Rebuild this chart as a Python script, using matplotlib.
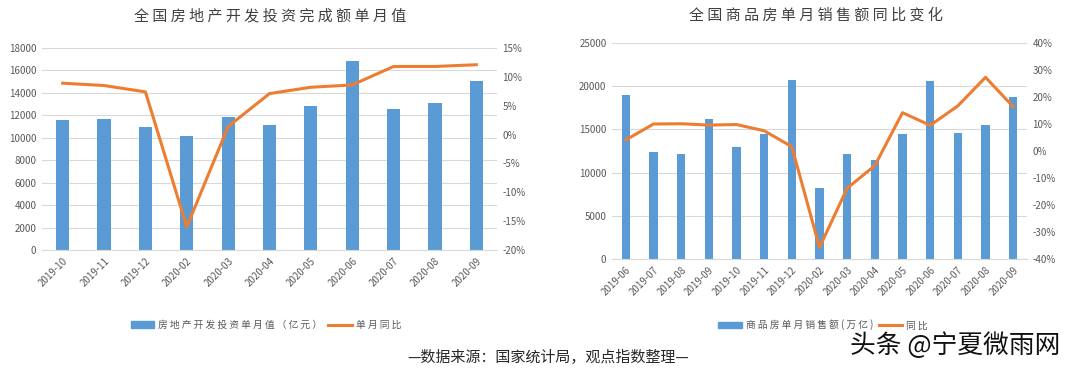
import numpy as np
import matplotlib
matplotlib.use('Agg')
import matplotlib.pyplot as plt
from matplotlib.patches import Patch
from matplotlib.lines import Line2D
from matplotlib.ticker import FuncFormatter

plt.rcParams['font.family'] = ['Noto Sans CJK SC', 'DejaVu Sans']

# left chart: investment
inv_months = ['2019-10', '2019-11', '2019-12', '2020-02', '2020-03', '2020-04',
              '2020-05', '2020-06', '2020-07', '2020-08', '2020-09']
inv_value = [11550, 11660, 10920, 10120, 11810, 11100, 12820, 16840, 12560, 13090, 15020]
inv_yoy = [8.9, 8.5, 7.4, -16.0, 1.4, 7.1, 8.2, 8.6, 11.8, 11.8, 12.1]

# right chart: sales
sale_months = ['2019-06', '2019-07', '2019-08', '2019-09', '2019-10', '2019-11', '2019-12',
               '2020-02', '2020-03', '2020-04', '2020-05', '2020-06', '2020-07', '2020-08', '2020-09']
sale_value = [18930, 12400, 12210, 16150, 12940, 14490, 20750, 8190, 12200, 11440,
              14450, 20630, 14570, 15530, 18700]
sale_yoy = [4.1, 10.0, 10.1, 9.6, 9.8, 7.5, 1.6, -35.7, -13.8, -5.4, 14.2, 9.5, 16.7, 27.3, 16.4]

BLUE = '#5B9BD5'
ORANGE = '#ED7D31'
GRID = '#D9D9D9'
TXT = '#595959'

fig = plt.figure(figsize=(10.8, 3.71), dpi=100)


def pct(v, pos):
    return '%d%%' % round(v)


def spaced(s):
    # mimic the letter spacing of the original titles
    return ' '.join(s)


def draw(rect, months, vals, yoy, ylim, yticks, rlim, rticks, width, title, title_xy,
         leg_labels, leg_xy):
    ax = fig.add_axes(rect)
    x = np.arange(len(months))
    ax.bar(x, vals, width=width, color=BLUE, zorder=2)
    ax.set_xlim(-0.5, len(months) - 0.5)
    ax.set_ylim(*ylim)
    ax.set_yticks(yticks)
    ax.grid(axis='y', color=GRID, linewidth=0.8, zorder=0)
    ax.set_xticks(x)
    ax.set_xticklabels(months, rotation=45, ha='right', rotation_mode='anchor')
    for s in ax.spines.values():
        s.set_visible(False)
    ax.spines['bottom'].set_visible(True)
    ax.spines['bottom'].set_color(GRID)
    ax.tick_params(axis='both', length=0, labelsize=7, colors=TXT, pad=4)

    ax2 = ax.twinx()
    ax2.plot(x, yoy, color=ORANGE, linewidth=2.2, zorder=3)
    ax2.set_ylim(*rlim)
    ax2.set_yticks(rticks)
    ax2.yaxis.set_major_formatter(FuncFormatter(pct))
    for s in ax2.spines.values():
        s.set_visible(False)
    ax2.tick_params(axis='y', length=0, labelsize=7, colors=TXT, pad=4)

    fig.text(title_xy[0], title_xy[1], spaced(title), ha='center', va='center',
             fontsize=10.8, color='#404040')
    handles = [Patch(color=BLUE), Line2D([], [], color=ORANGE, linewidth=2.2)]
    fig.legend(handles, [spaced(l) for l in leg_labels],
               loc='center', bbox_to_anchor=leg_xy, ncol=2, frameon=False,
               fontsize=7, labelcolor=TXT, handlelength=2.4, handleheight=0.6,
               columnspacing=0.6, handletextpad=0.4)


draw([42 / 1080, 1 - 250 / 371, 455 / 1080, 202 / 371], inv_months, inv_value, inv_yoy,
     (0, 18000), np.arange(0, 18001, 2000), (-20, 15), np.arange(-20, 16, 5), 0.32,
     '全国房地产开发投资完成额单月值', (270 / 1080, 1 - 16 / 371),
     ['房地产开发投资单月值（亿元）', '单月同比'], (266 / 1080, 1 - 325 / 371))

draw([612 / 1080, 1 - 259 / 371, 415 / 1080, 216 / 371], sale_months, sale_value, sale_yoy,
     (0, 25000), np.arange(0, 25001, 5000), (-40, 40), np.arange(-40, 41, 10), 0.3,
     '全国商品房单月销售额同比变化', (816 / 1080, 1 - 15 / 371),
     ['商品房单月销售额(万亿)', '同比'], (823 / 1080, 1 - 325 / 371))

fig.text(548 / 1080, 1 - 358 / 371, '—数据来源：国家统计局，观点指数整理—',
         ha='center', va='center', fontsize=10.8, color='#262626')
fig.text(955 / 1080, 1 - 346 / 371, '头条 @宁夏微雨网', ha='center', va='center',
         fontsize=18.5, color='#111111', fontweight='medium')

fig.savefig('out.png', dpi=100, facecolor='white')
